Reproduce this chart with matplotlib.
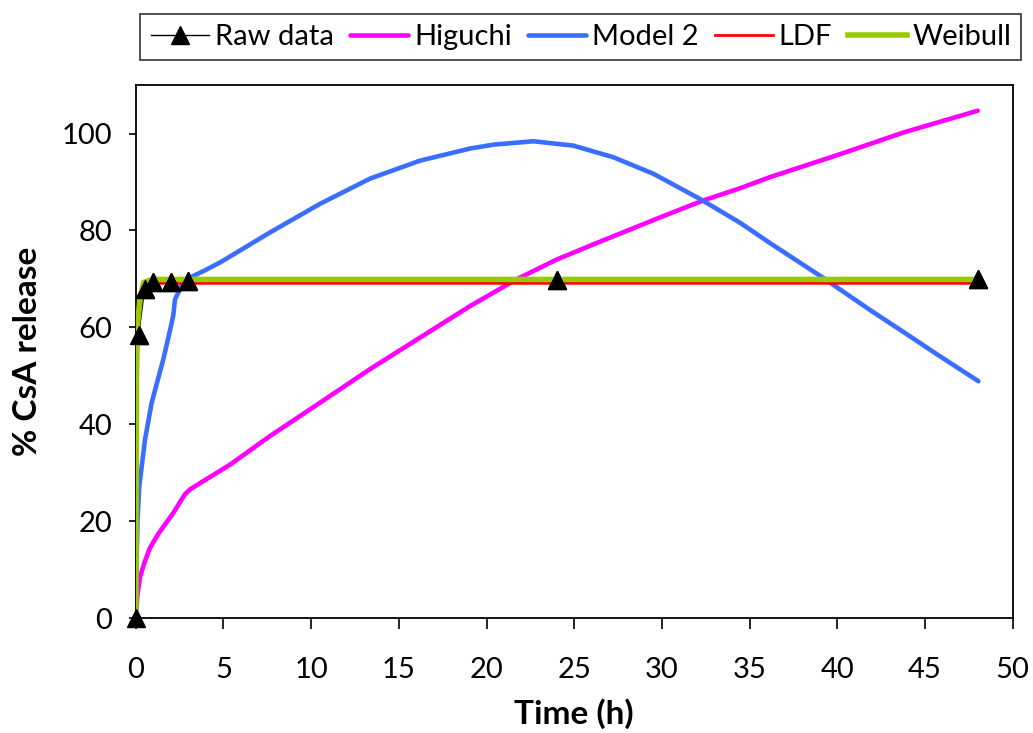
import matplotlib.pyplot as plt

plt.rcParams['font.family'] = ['Lato', 'DejaVu Sans']

# raw release data
t_raw = [0, 0.17, 0.5, 1, 2, 3, 24, 48]
y_raw = [0, 58.5, 67.9, 69.3, 69.4, 69.5, 69.7, 70.0]

# model curves
t_hig = [0, 0.1, 0.25, 0.5, 0.81, 1.3, 2.14, 2.53, 2.81, 3.1, 5.38, 7.66,
         9.94, 13.36, 19.06, 21.7, 24.0, 26.0, 29.9, 32.36, 34.45, 36.16,
         39.96, 41.1, 43.76, 48.0]
y_hig = [0, 5.0, 8.6, 11.5, 14.5, 17.5, 21.7, 24.0, 25.6, 26.6, 31.7, 37.6,
         43.1, 51.4, 64.4, 69.9, 74.0, 77.0, 82.7, 86.2, 88.7, 91.0,
         95.5, 96.9, 100.2, 104.7]

t_mod2 = [0, 0.05, 0.1, 0.2, 0.53, 0.91, 1.57, 1.96, 2.05, 2.14, 2.24, 2.71,
          3.1, 3.85, 4.81, 7.66, 10.51, 13.36, 16.21, 19.06, 20.39, 22.67,
          24.95, 27.23, 29.51, 32.17, 34.45, 36.16, 39.2, 41.86, 43.96, 45.66,
          48.04]
y_mod2 = [0, 12, 20, 27.2, 36.9, 44.5, 53.4, 59.5, 61.0, 62.5, 65.8, 69.3,
          70.3, 71.6, 73.4, 79.6, 85.5, 90.7, 94.4, 96.9, 97.7, 98.4,
          97.5, 95.1, 91.7, 86.5, 81.6, 77.4, 70.2, 63.6, 58.6, 54.5,
          48.9]

t_ldf = [0, 0.05, 0.1, 0.25, 0.4, 1, 3, 24, 48]
y_ldf = [0, 38, 56, 66.5, 69.0, 69.1, 69.1, 69.1, 69.1]

t_wei = [0, 0.05, 0.25, 0.45, 1, 3, 24, 48]
y_wei = [0, 59, 66, 69.3, 69.9, 69.9, 69.9, 69.9]

fig = plt.figure(figsize=(10.33, 7.33), dpi=100)
ax = fig.add_axes([0.1314, 0.1565, 0.8490, 0.7275])

ax.plot(t_raw, y_raw, color="black", linewidth=1.0, marker="^",
        markersize=13, label="Raw data", zorder=1)
ax.plot(t_hig, y_hig, color="#FF00FF", linewidth=3.3, label="Higuchi", zorder=2,
        solid_capstyle="round", solid_joinstyle="round")
ax.plot(t_mod2, y_mod2, color="#3A6EFF", linewidth=3.3, label="Model 2", zorder=3,
        solid_capstyle="round", solid_joinstyle="round")
ax.plot(t_ldf, y_ldf, color="#FF0000", linewidth=2.0, label="LDF", zorder=4)
ax.plot(t_wei, y_wei, color="#99CC00", linewidth=4.0, label="Weibull", zorder=5)
ax.plot(t_raw, y_raw, linestyle="none", marker="^", markersize=13,
        color="black", zorder=6, clip_on=False)

ax.set_xlim(0, 50)
ax.set_ylim(0, 110)
ax.set_xticks(range(0, 51, 5))
ax.set_yticks(range(0, 101, 20))
ax.tick_params(axis="x", direction="out", length=8, width=1.2,
               labelsize=21, pad=20)
ax.tick_params(axis="y", direction="out", length=5, width=1.2,
               labelsize=21, pad=12)
for s in ax.spines.values():
    s.set_linewidth(1.3)

ax.set_xlabel("Time (h)", fontsize=24, fontweight="bold", labelpad=11)
ax.set_ylabel("% CsA release", fontsize=24, fontweight="bold", labelpad=14)

leg = ax.legend(loc="center", ncol=5, fontsize=21, frameon=True, fancybox=False,
                edgecolor="black", handlelength=2.0, handletextpad=0.2,
                columnspacing=0.55, borderpad=0.35,
                bbox_to_anchor=(0.5624, 0.9495), bbox_transform=fig.transFigure)
leg.get_frame().set_linewidth(1.2)

fig.savefig("out.png", dpi=100)
